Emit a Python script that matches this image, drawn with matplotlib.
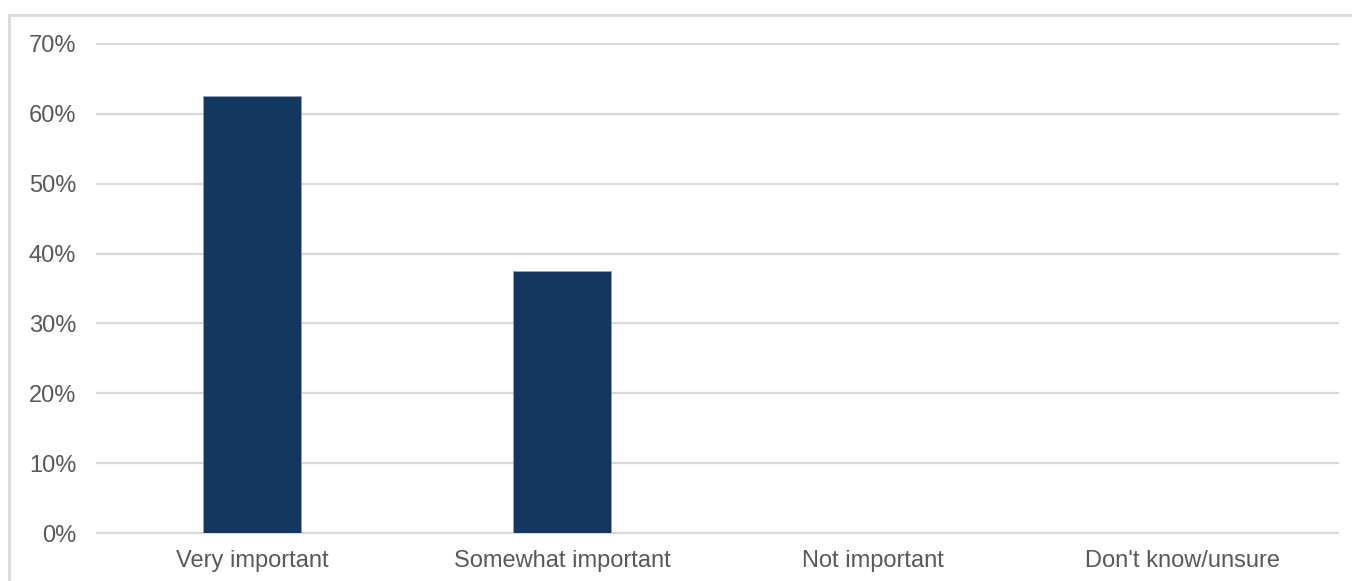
import matplotlib
matplotlib.use("Agg")
import matplotlib.pyplot as plt
from matplotlib.patches import Rectangle

categories = ["Very important", "Somewhat important", "Not important", "Don't know/unsure"]
values = [62.5, 37.5, 0.0, 0.0]
yticks = [0, 10, 20, 30, 40, 50, 60, 70]
ytick_labels = [f"{v}%" for v in yticks]

plt.rcParams['font.family'] = ['Liberation Sans', 'DejaVu Sans']

W, H = 1352, 581
fig = plt.figure(figsize=(W/100, H/100), dpi=100)
ax = fig.add_axes([97/W, 1-533/H, (1338-97)/W, (533-44)/H])

x = list(range(len(categories)))
ax.bar(x, values, width=0.316, color="#143760", edgecolor="#8fa3bb", linewidth=0.5, zorder=3)
ax.set_xlim(-0.5, len(categories)-0.5)
ax.set_ylim(0, 70)
ax.set_yticks(yticks)
ax.set_yticklabels(ytick_labels)
ax.set_xticks(x)
ax.set_xticklabels(categories)
ax.grid(axis='y', color="#D9D9D9", linewidth=1.6, zorder=0)
for gl in ax.get_ygridlines():
    gl.set_clip_on(False)
for s in ax.spines.values():
    s.set_visible(False)
ax.tick_params(axis='both', length=0, labelsize=17, colors="#595959")
ax.tick_params(axis='y', pad=15)
ax.tick_params(axis='x', pad=12)

fig.patches.append(Rectangle((9/W, -0.1), 1.2, 1-15/H+0.1, transform=fig.transFigure,
                             fill=False, edgecolor="#D9D9D9", linewidth=2))

fig.savefig("out.png", dpi=100)
